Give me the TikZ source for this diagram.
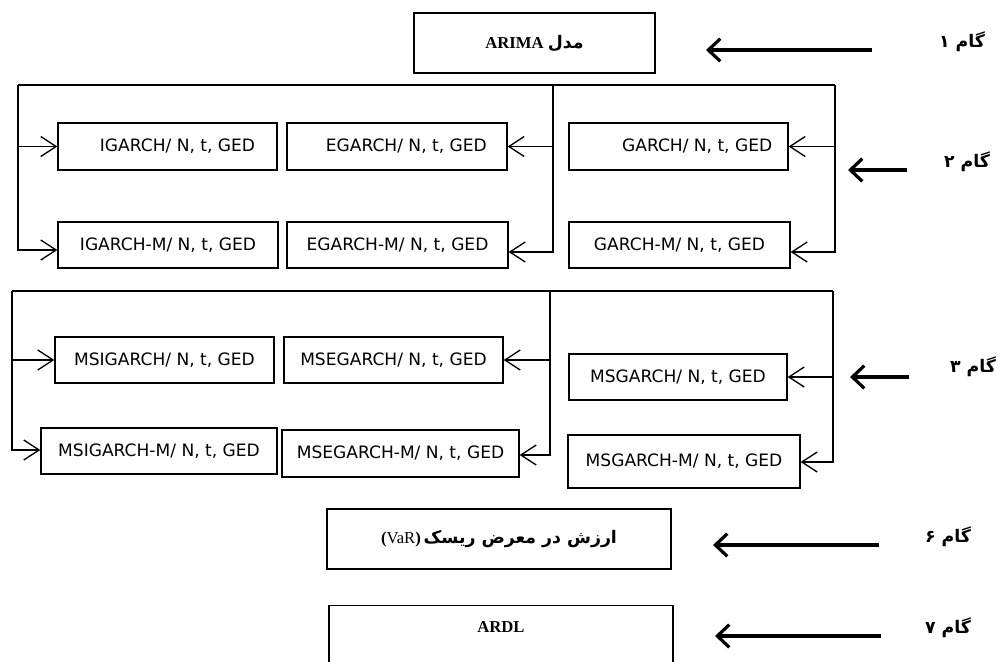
\documentclass[tikz,border=0pt]{standalone}
\usepackage{fontspec}
\setmainfont{Liberation Serif}
\newfontfamily\boxfont{DejaVu Sans}
\newfontfamily\fa[Script=Arabic]{DejaVu Sans}
\TeXXeTstate=1
\usetikzlibrary{arrows.meta}
\tikzset{
  mbox/.style={draw, line width=1pt, inner sep=0pt, font=\boxfont\fontsize{12.8}{14}\selectfont},
  tbox/.style={draw, line width=1pt, inner sep=0pt, font=\fontsize{12.5}{14}\selectfont},
  bus/.style={line width=1pt},
  conn/.style={line width=1pt, -{Straight Barb[length=11.5pt,width=15pt]}},
  steparrow/.style={line width=2.4pt, -{Straight Barb[length=9pt,width=17pt]}},
  steplabel/.style={font=\fa\bfseries\fontsize{13}{15}\selectfont},
}
\begin{document}
\begin{tikzpicture}[x=0.75pt,y=-0.75pt]
\path[use as bounding box, clip] (0,0) rectangle (1003,661);

% step 1
\node[tbox, minimum width=180.75pt, minimum height=45pt] (arima) at (534.5,43) {\raisebox{2pt}{\textbf{ARIMA} {\fa\bfseries\fontsize{13}{15}\selectfont\beginR مدل\endR}}};

% step 2 boxes
\node[mbox, minimum width=164.25pt, minimum height=35.25pt] (igarch) at (167.5,146.5) {\hspace*{15pt}IGARCH/ N, t, GED};
\node[mbox, minimum width=165pt, minimum height=35.25pt] (egarch) at (397,146.5) {\hspace*{14pt}EGARCH/ N, t, GED};
\node[mbox, minimum width=164.25pt, minimum height=35.25pt] (garch) at (678.5,146.5) {\hspace*{28pt}GARCH/ N, t, GED};
\node[mbox, minimum width=165pt, minimum height=34.5pt] (igarchm) at (168,245) {IGARCH-M/ N, t, GED};
\node[mbox, minimum width=165.75pt, minimum height=34.5pt] (egarchm) at (397.5,245) {EGARCH-M/ N, t, GED};
\node[mbox, minimum width=165.75pt, minimum height=34.5pt] (garchm) at (679.5,245) {GARCH-M/ N, t, GED};

% step 3 boxes
\node[mbox, minimum width=164.25pt, minimum height=34.5pt] (msigarch) at (164.5,360) {MSIGARCH/ N, t, GED};
\node[mbox, minimum width=164.25pt, minimum height=34.5pt] (msegarch) at (393.5,360) {MSEGARCH/ N, t, GED};
\node[mbox, minimum width=163.5pt, minimum height=34.5pt] (msgarch) at (678,377) {MSGARCH/ N, t, GED};
\node[mbox, minimum width=177pt, minimum height=34.5pt] (msigarchm) at (159,451) {MSIGARCH-M/ N, t, GED};
\node[mbox, minimum width=177.75pt, minimum height=35.25pt] (msegarchm) at (400.5,453.5) {MSEGARCH-M/ N, t, GED};
\node[mbox, minimum width=174pt, minimum height=39.75pt] (msgarchm) at (684,461.5) {MSGARCH-M/ N, t, GED};

% step 6 and 7
\node[tbox, minimum width=258pt, minimum height=45pt] (var) at (499,539) {{\bfseries(}VaR{\bfseries)}\,{\fa\bfseries\fontsize{13}{15}\selectfont\beginR ارزش در معرض ریسک\endR}};
\node[tbox, minimum width=258pt, minimum height=70pt, anchor=north] (ardl) at (501,605) {};
\node[font=\bfseries\fontsize{12.5}{14}\selectfont] (ardltext) at (501,627) {ARDL};

% step 2 bus
\coordinate (t2l) at (18,85);
\coordinate (t2m) at (553,85);
\coordinate (t2r) at (835,85);
\coordinate (b2l) at (18,250);
\coordinate (b2m) at (553,252);
\coordinate (b2r) at (835,252);
\draw[bus] (t2l) -- (t2r);
\draw[conn] (t2l) -- (b2l) -- (b2l -| igarchm.west);
\draw[conn] (t2m) -- (b2m) -- (b2m -| egarchm.east);
\draw[conn] (t2r) -- (b2r) -- (b2r -| garchm.east);
\draw[conn] (t2l |- igarch.west) -- (igarch.west);
\draw[conn] (t2m |- egarch.east) -- (egarch.east);
\draw[conn] (t2r |- garch.east) -- (garch.east);

% step 3 bus
\coordinate (t3l) at (12,291);
\coordinate (t3m) at (550,291);
\coordinate (t3r) at (833,291);
\coordinate (b3l) at (12,450);
\coordinate (b3m) at (550,455);
\coordinate (b3r) at (833,462);
\draw[bus] (t3l) -- (t3r);
\draw[conn] (t3l) -- (b3l) -- (b3l -| msigarchm.west);
\draw[conn] (t3m) -- (b3m) -- (b3m -| msegarchm.east);
\draw[conn] (t3r) -- (b3r) -- (b3r -| msgarchm.east);
\draw[conn] (t3l |- msigarch.west) -- (msigarch.west);
\draw[conn] (t3m |- msegarch.east) -- (msegarch.east);
\draw[conn] (t3r |- msgarch.east) -- (msgarch.east);

% step arrows
\coordinate (s1a) at (872,50); \coordinate (s1b) at (706,50);
\coordinate (s2a) at (907,170); \coordinate (s2b) at (848,170);
\coordinate (s3a) at (909,377); \coordinate (s3b) at (850,377);
\coordinate (s6a) at (879,545); \coordinate (s6b) at (713,545);
\coordinate (s7a) at (881,636); \coordinate (s7b) at (715,636);
\draw[steparrow] (s1a) -- (s1b);
\draw[steparrow] (s2a) -- (s2b);
\draw[steparrow] (s3a) -- (s3b);
\draw[steparrow] (s6a) -- (s6b);
\draw[steparrow] (s7a) -- (s7b);

% step labels
\node[steplabel] (l1) at (962,42) {\beginR گام ۱\endR};
\node[steplabel] (l2) at (967,162) {\beginR گام ۲\endR};
\node[steplabel] (l3) at (973,367) {\beginR گام ۳\endR};
\node[steplabel] (l6) at (948,537) {\beginR گام ۶\endR};
\node[steplabel] (l7) at (948,628) {\beginR گام ۷\endR};
\end{tikzpicture}
\end{document}
